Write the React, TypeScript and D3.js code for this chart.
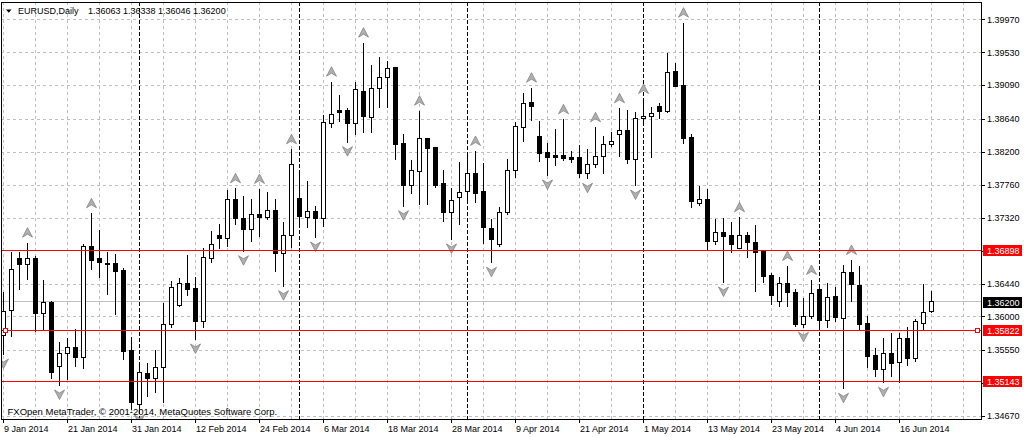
import * as d3 from 'd3';
import { useRef, useEffect } from 'react';

// trading days shown on the chart (Mon-Fri, 9 Jan 2014 .. 20 Jun 2014)
const dates = d3
  .utcDays(new Date(Date.UTC(2014, 0, 9)), new Date(Date.UTC(2014, 5, 21)))
  .filter(d => d.getUTCDay() % 6 !== 0);

const opens = [
  1.35739, 1.36073, 1.36777, 1.36692, 1.36777, 1.36042, 1.36189, 1.35329, 1.35508, 1.35588,
  1.35454, 1.36941, 1.36768, 1.36714, 1.36701, 1.36611, 1.35539, 1.34827, 1.35241, 1.35174,
  1.35321, 1.35886, 1.36140, 1.36443, 1.36376, 1.35930, 1.36777, 1.37075, 1.37044, 1.37565,
  1.37312, 1.37165, 1.37356, 1.37325, 1.37422, 1.36844, 1.37075, 1.37579, 1.37325, 1.37400,
  1.37302, 1.38581, 1.38745, 1.38745, 1.38581, 1.39012, 1.38661, 1.39048, 1.39195, 1.39324,
  1.38314, 1.37756, 1.37934, 1.38371, 1.38255, 1.37770, 1.37386, 1.37592, 1.37667, 1.37913,
  1.37676, 1.37178, 1.36955, 1.37386, 1.37947, 1.38527, 1.38856, 1.38402, 1.38188, 1.38144,
  1.38144, 1.38117, 1.38117, 1.37913, 1.38033, 1.38135, 1.38300, 1.38434, 1.38491, 1.38100,
  1.38648, 1.38678, 1.38803, 1.38736, 1.39270, 1.39079, 1.38388, 1.37512, 1.37569, 1.36999,
  1.37125, 1.37075, 1.36911, 1.37075, 1.36991, 1.36865, 1.36541, 1.36197, 1.36443, 1.36323,
  1.35896, 1.35993, 1.36354, 1.35943, 1.36273, 1.35976, 1.36590, 1.36420, 1.35909, 1.35472,
  1.35294, 1.35508, 1.35382, 1.35708, 1.35441, 1.35909, 1.36063,
];

const highs = [
  1.36327, 1.36865, 1.36865, 1.36986, 1.36808, 1.36487, 1.36207, 1.35663, 1.35708, 1.35833,
  1.36968, 1.37378, 1.37155, 1.36865, 1.36835, 1.36644, 1.35730, 1.35374, 1.35378, 1.35552,
  1.36176, 1.36474, 1.36510, 1.36821, 1.36523, 1.36911, 1.37146, 1.37235, 1.37690, 1.37712,
  1.37609, 1.37565, 1.37703, 1.37659, 1.37569, 1.37258, 1.38233, 1.37957, 1.37810, 1.37476,
  1.38692, 1.39136, 1.38959, 1.38781, 1.39136, 1.39658, 1.39360, 1.39462, 1.39417, 1.39337,
  1.38438, 1.38090, 1.38749, 1.38388, 1.38268, 1.37957, 1.37712, 1.38068, 1.38171, 1.38211,
  1.38046, 1.37298, 1.37466, 1.38100, 1.38602, 1.38990, 1.39056, 1.38611, 1.38322, 1.38505,
  1.38634, 1.38215, 1.38291, 1.38233, 1.38527, 1.38411, 1.38468, 1.38781, 1.38758, 1.38732,
  1.38905, 1.38803, 1.38856, 1.39516, 1.39382, 1.39925, 1.38438, 1.37743, 1.37703, 1.37302,
  1.37311, 1.37266, 1.37325, 1.37125, 1.37222, 1.36888, 1.36585, 1.36531, 1.36674, 1.36367,
  1.36247, 1.36487, 1.36398, 1.36447, 1.36398, 1.36688, 1.36754, 1.36674, 1.36006, 1.35575,
  1.35716, 1.35775, 1.35783, 1.35855, 1.35962, 1.36430, 1.36338,
];

const lows = [
  1.35485, 1.35730, 1.36354, 1.36487, 1.35797, 1.35819, 1.35161, 1.35071, 1.35151, 1.35329,
  1.35294, 1.36621, 1.36518, 1.36287, 1.36020, 1.35418, 1.34750, 1.34737, 1.34928, 1.34973,
  1.34840, 1.35846, 1.36123, 1.36273, 1.35686, 1.35842, 1.36718, 1.36897, 1.36932, 1.37222,
  1.36865, 1.36999, 1.37066, 1.37289, 1.36598, 1.36398, 1.36911, 1.37199, 1.37178, 1.37048,
  1.37199, 1.38514, 1.38602, 1.38322, 1.38424, 1.38447, 1.38447, 1.38781, 1.38781, 1.38090,
  1.37466, 1.37632, 1.37489, 1.37489, 1.37712, 1.37266, 1.37022, 1.37222, 1.37520, 1.37520,
  1.36968, 1.36710, 1.36928, 1.37356, 1.37850, 1.38335, 1.38615, 1.38068, 1.37877, 1.38010,
  1.38077, 1.38046, 1.37854, 1.37833, 1.37980, 1.37899, 1.38260, 1.38135, 1.38037, 1.37743,
  1.38602, 1.38113, 1.38634, 1.38714, 1.39066, 1.38304, 1.37445, 1.37476, 1.36888, 1.36955,
  1.36447, 1.36844, 1.36901, 1.36777, 1.36331, 1.36443, 1.36153, 1.36131, 1.36123, 1.35863,
  1.35842, 1.35966, 1.35858, 1.35850, 1.35930, 1.35027, 1.36197, 1.35810, 1.35316, 1.35195,
  1.35107, 1.35195, 1.35115, 1.35342, 1.35396, 1.35819, 1.36046,
];

const closes = [
  1.36064, 1.36630, 1.36692, 1.36777, 1.36042, 1.36189, 1.35249, 1.35508, 1.35588, 1.35454,
  1.36941, 1.36745, 1.36724, 1.36692, 1.36598, 1.35529, 1.34848, 1.35249, 1.35174, 1.35321,
  1.35886, 1.36384, 1.36443, 1.36363, 1.35930, 1.36790, 1.36964, 1.37044, 1.37565, 1.37312,
  1.37165, 1.37365, 1.37325, 1.37409, 1.36844, 1.37088, 1.38024, 1.37333, 1.37400, 1.37302,
  1.38594, 1.38701, 1.38728, 1.38581, 1.39026, 1.38669, 1.39048, 1.39195, 1.39316, 1.38300,
  1.37756, 1.37947, 1.38371, 1.38247, 1.37756, 1.37386, 1.37543, 1.37659, 1.37913, 1.37646,
  1.37191, 1.37022, 1.37386, 1.37947, 1.38535, 1.38848, 1.38802, 1.38180, 1.38121, 1.38121,
  1.38108, 1.38094, 1.37913, 1.38033, 1.38135, 1.38300, 1.38331, 1.38491, 1.38100, 1.38648,
  1.38678, 1.38705, 1.38736, 1.39259, 1.39070, 1.38380, 1.37533, 1.37556, 1.36999, 1.37125,
  1.37066, 1.36964, 1.37075, 1.36986, 1.36852, 1.36531, 1.36278, 1.36443, 1.36318, 1.35886,
  1.36006, 1.36300, 1.35943, 1.36256, 1.35984, 1.36590, 1.36430, 1.35899, 1.35462, 1.35294,
  1.35508, 1.35374, 1.35708, 1.35441, 1.35939, 1.36056, 1.36200,
];

// Bill Williams fractals (bar indices)
const upFractals = [3, 11, 29, 32, 36, 41, 45, 52, 59, 66, 70, 74, 77, 80, 85, 92, 98, 101, 106];
const downFractals = [0, 7, 17, 24, 30, 35, 39, 43, 50, 56, 61, 68, 73, 79, 90, 100, 105, 110];

const priceTicks = [
  1.3997, 1.3953, 1.3909, 1.3864, 1.382, 1.3776, 1.3732,
  1.3688, 1.3644, 1.36, 1.3555, 1.3511, 1.3467,
];

// horizontal lines drawn on the chart
const levels = [1.36898, 1.35822, 1.35143];
const selectedLevel = 1.35822;
const bid = 1.362;

const symbol = 'EURUSD,Daily';
const lastQuote = ['1.36063', '1.36338', '1.36046', '1.36200'];
const copyright = 'FXOpen MetaTrader, \u00a9 2001-2014, MetaQuotes Software Corp.';

const W = 1024;
const H = 437;
const plot = { left: 1, right: 981, top: 2, bottom: 419 };
const font = "'Liberation Sans', Arial, sans-serif";

const App = () => {
  const ref = useRef<SVGSVGElement>(null);

  useEffect(() => {
    if (!ref.current) return;
    const svg = d3.select(ref.current);
    svg.selectAll('*').remove();

    const x = d3.scalePoint<Date>().domain(dates).range([3.5, 3.5 + 8 * (dates.length - 1)]);
    const y = d3.scaleLinear().domain([1.3467, 1.3997]).range([416, 19.3]);
    const step = x.step();
    const fmt = d3.utcFormat('%-d %b %Y');
    const py = (v: number) => Math.round(y(v)) + 0.5;

    svg.append('rect').attr('width', W).attr('height', H).attr('fill', '#fff');

    svg.append('clipPath').attr('id', 'plotclip')
      .append('rect')
      .attr('x', plot.left).attr('y', plot.top)
      .attr('width', plot.right - plot.left).attr('height', plot.bottom - plot.top);

    const g = svg.append('g').attr('clip-path', 'url(#plotclip)');

    // ticks hidden behind the level tags get no label and no grid line
    const labelled = priceTicks.filter(p => levels.every(l => Math.abs(y(l) - y(p)) > 6));

    // grid
    const gridX = d3.range(x(dates[0])!, plot.right, step * 4);
    g.selectAll('line.gx').data(gridX).join('line')
      .attr('class', 'gx')
      .attr('x1', d => d).attr('x2', d => d)
      .attr('y1', plot.top).attr('y2', plot.bottom)
      .attr('stroke', '#c0c0c0').attr('stroke-dasharray', '3,3')
      .attr('shape-rendering', 'crispEdges');
    g.selectAll('line.gy').data(labelled).join('line')
      .attr('class', 'gy')
      .attr('x1', plot.left).attr('x2', plot.right)
      .attr('y1', py).attr('y2', py)
      .attr('stroke', '#c0c0c0').attr('stroke-dasharray', '3,3')
      .attr('shape-rendering', 'crispEdges');

    // month separators
    const seps = dates.filter((d, i) => i > 0 && d.getUTCMonth() !== dates[i - 1].getUTCMonth());
    g.selectAll('line.sep').data(seps).join('line')
      .attr('class', 'sep')
      .attr('x1', d => x(d)!).attr('x2', d => x(d)!)
      .attr('y1', plot.top).attr('y2', plot.bottom)
      .attr('stroke', '#000').attr('stroke-dasharray', '4,2')
      .attr('shape-rendering', 'crispEdges');

    // bid line
    g.append('line')
      .attr('x1', plot.left).attr('x2', plot.right)
      .attr('y1', py(bid)).attr('y2', py(bid))
      .attr('stroke', '#c0c0c0').attr('shape-rendering', 'crispEdges');

    // candles
    const idx = d3.range(dates.length);
    const candles = g.append('g').attr('shape-rendering', 'crispEdges');
    candles.selectAll('line.wick').data(idx).join('line')
      .attr('class', 'wick')
      .attr('x1', i => x(dates[i])!).attr('x2', i => x(dates[i])!)
      .attr('y1', i => y(highs[i])).attr('y2', i => y(lows[i]))
      .attr('stroke', '#000');
    candles.selectAll('rect.body').data(idx).join('rect')
      .attr('class', 'body')
      .attr('x', i => x(dates[i])! - 2)
      .attr('width', 4)
      .attr('y', i => y(Math.max(opens[i], closes[i])))
      .attr('height', i => Math.max(0.01, Math.abs(y(opens[i]) - y(closes[i]))))
      .attr('fill', i => (closes[i] >= opens[i] ? '#fff' : '#000'))
      .attr('stroke', '#000');

    // fractal arrows
    const upPath = 'M0,-5L5,4.5L0,1.5L-5,4.5Z';
    const downPath = 'M0,5L5,-4.5L0,-1.5L-5,-4.5Z';
    g.selectAll('path.fu').data(upFractals).join('path')
      .attr('class', 'fu')
      .attr('d', upPath)
      .attr('transform', i => `translate(${x(dates[i])},${y(highs[i]) - 10})`)
      .attr('fill', '#b0b0b0').attr('stroke', '#787878').attr('stroke-width', 0.7);
    g.selectAll('path.fd').data(downFractals).join('path')
      .attr('class', 'fd')
      .attr('d', downPath)
      .attr('transform', i => `translate(${x(dates[i])},${y(lows[i]) + 8.5})`)
      .attr('fill', '#b0b0b0').attr('stroke', '#787878').attr('stroke-width', 0.7);

    // frame
    svg.append('path')
      .attr('d', `M${plot.left + 0.5},${plot.bottom + 0.5}V${plot.top + 0.5}H${plot.right + 0.5}V${plot.bottom + 0.5}H${plot.left + 0.5}`)
      .attr('fill', 'none').attr('stroke', '#000').attr('shape-rendering', 'crispEdges');

    // horizontal levels, on top of the plot
    svg.selectAll('line.lvl').data(levels).join('line')
      .attr('class', 'lvl')
      .attr('x1', plot.left + 1).attr('x2', plot.right)
      .attr('y1', d => Math.ceil(y(d)) + 0.5).attr('y2', d => Math.ceil(y(d)) + 0.5)
      .attr('stroke', 'red').attr('stroke-width', 1);
    const sy = Math.ceil(y(selectedLevel)) + 0.5;
    [5.5, plot.right - 3.5].forEach(cx => {
      svg.append('rect')
        .attr('x', cx - 2).attr('y', sy - 2).attr('width', 4).attr('height', 4)
        .attr('fill', '#fff').attr('stroke', 'red').attr('shape-rendering', 'crispEdges');
    });

    // price axis
    svg.selectAll('line.pt').data(priceTicks).join('line')
      .attr('class', 'pt')
      .attr('x1', plot.right).attr('x2', plot.right + 4)
      .attr('y1', py).attr('y2', py)
      .attr('stroke', '#000').attr('shape-rendering', 'crispEdges');
    svg.selectAll('text.pl').data(labelled).join('text')
      .attr('class', 'pl')
      .attr('x', plot.right + 6).attr('y', d => y(d) + 3.3)
      .attr('font-family', font).attr('font-size', 9).attr('fill', '#000')
      .text(d => d.toFixed(5));

    const tags = [
      ...levels.map(l => ({ v: l, bg: 'red' })),
      { v: bid, bg: '#000' },
    ];
    tags.forEach(t => {
      const ty = Math.ceil(y(t.v));
      svg.append('rect')
        .attr('x', plot.right + 2).attr('y', ty - 5)
        .attr('width', 39).attr('height', 11)
        .attr('fill', t.bg).attr('shape-rendering', 'crispEdges');
      svg.append('text')
        .attr('x', plot.right + 6).attr('y', ty + 3.8)
        .attr('font-family', font).attr('font-size', 9).attr('fill', '#fff')
        .text(t.v.toFixed(5));
    });

    // time axis
    const timeTicks = dates.filter((d, i) => i % 8 === 0);
    svg.selectAll('line.tt').data(timeTicks).join('line')
      .attr('class', 'tt')
      .attr('x1', d => x(d)!).attr('x2', d => x(d)!)
      .attr('y1', plot.bottom).attr('y2', plot.bottom + 4)
      .attr('stroke', '#000').attr('shape-rendering', 'crispEdges');
    svg.selectAll('text.tl').data(timeTicks).join('text')
      .attr('class', 'tl')
      .attr('x', d => x(d)! + 0.5).attr('y', 431.5)
      .attr('font-family', font).attr('font-size', 9).attr('fill', '#000')
      .text(d => fmt(d));

    // header
    svg.append('path').attr('d', 'M6,9.5H11.5L8.75,12.8Z').attr('fill', '#000');
    svg.append('text')
      .attr('x', 18).attr('y', 13.5)
      .attr('font-family', font).attr('font-size', 9).attr('fill', '#000')
      .text(symbol);
    svg.append('text')
      .attr('x', 88).attr('y', 13.5)
      .attr('font-family', font).attr('font-size', 9).attr('fill', '#000')
      .text(lastQuote.join(' '));

    svg.append('text')
      .attr('x', 7.5).attr('y', 415)
      .attr('font-family', font).attr('font-size', 9.5).attr('fill', '#000')
      .text(copyright);
  }, []);

  return (
    <svg
      ref={ref}
      width={W}
      height={H}
      style={{ position: 'absolute', left: 0, top: 0, display: 'block' }}
    />
  );
};

export default App;
